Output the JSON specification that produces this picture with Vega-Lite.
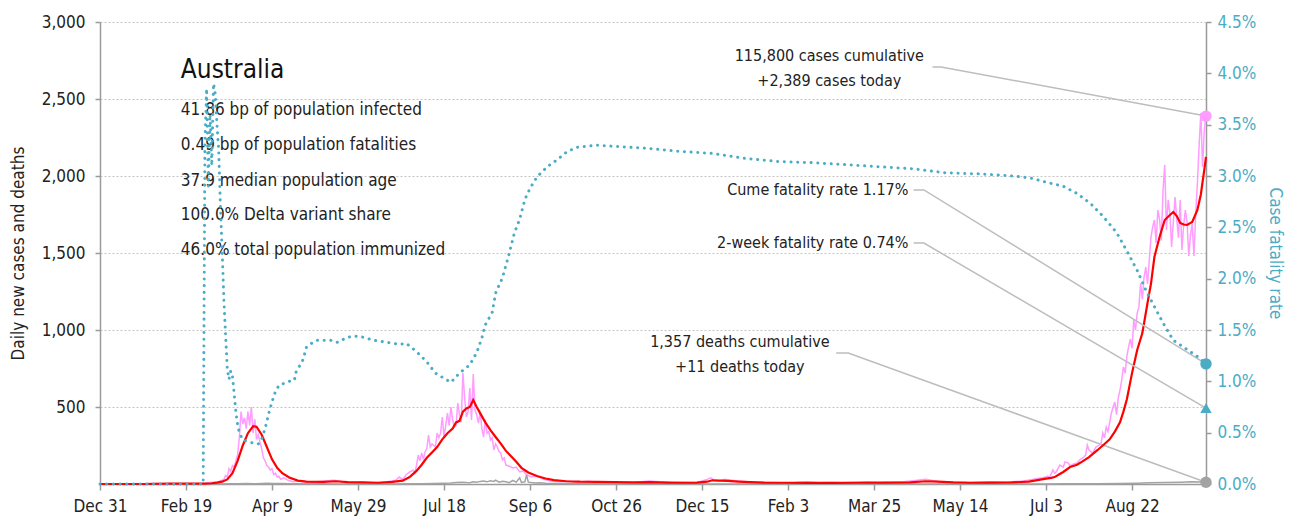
{
  "$schema": "https://vega.github.io/schema/vega-lite/v6.json",
  "width": 1106,
  "height": 462,
  "autosize": {"type": "none"},
  "padding": {"left": 100, "top": 22, "right": 91, "bottom": 38},
  "background": "white",
  "config": {
    "font": "Liberation Sans Narrow, DejaVu Sans Condensed, sans-serif",
    "view": {"stroke": null},
    "axis": {
      "labelFont": "Liberation Sans Narrow, DejaVu Sans Condensed, sans-serif",
      "titleFont": "Liberation Sans Narrow, DejaVu Sans Condensed, sans-serif",
      "labelFontSize": 17,
      "titleFontSize": 17,
      "titleFontWeight": "normal",
      "domainColor": "#9a9a9a",
      "tickColor": "#9a9a9a",
      "domainWidth": 1.5,
      "tickWidth": 1.5,
      "labelColor": "#222222",
      "titleColor": "#222222"
    }
  },
  "datasets": {
    "raw": [
      {"d": "2019-12-31", "v": 0}, {"d": "2020-01-25", "v": 1}, {"d": "2020-02-01", "v": 3}, {"d": "2020-02-10", "v": 1}, {"d": "2020-02-20", "v": 0}, {"d": "2020-02-29", "v": 4},
      {"d": "2020-03-03", "v": 8}, {"d": "2020-03-06", "v": 12}, {"d": "2020-03-09", "v": 15}, {"d": "2020-03-11", "v": 25}, {"d": "2020-03-12", "v": 30}, {"d": "2020-03-13", "v": 55},
      {"d": "2020-03-14", "v": 45}, {"d": "2020-03-15", "v": 100}, {"d": "2020-03-16", "v": 80}, {"d": "2020-03-17", "v": 120}, {"d": "2020-03-18", "v": 110}, {"d": "2020-03-19", "v": 150},
      {"d": "2020-03-20", "v": 190}, {"d": "2020-03-21", "v": 300}, {"d": "2020-03-22", "v": 470}, {"d": "2020-03-23", "v": 390}, {"d": "2020-03-24", "v": 430}, {"d": "2020-03-25", "v": 360},
      {"d": "2020-03-26", "v": 470}, {"d": "2020-03-27", "v": 380}, {"d": "2020-03-28", "v": 500}, {"d": "2020-03-29", "v": 330}, {"d": "2020-03-30", "v": 420}, {"d": "2020-03-31", "v": 290},
      {"d": "2020-04-01", "v": 320}, {"d": "2020-04-02", "v": 270}, {"d": "2020-04-03", "v": 230}, {"d": "2020-04-04", "v": 170}, {"d": "2020-04-05", "v": 150}, {"d": "2020-04-06", "v": 120},
      {"d": "2020-04-07", "v": 110}, {"d": "2020-04-08", "v": 90}, {"d": "2020-04-09", "v": 100}, {"d": "2020-04-10", "v": 60}, {"d": "2020-04-11", "v": 70}, {"d": "2020-04-12", "v": 45},
      {"d": "2020-04-13", "v": 50}, {"d": "2020-04-14", "v": 30}, {"d": "2020-04-16", "v": 40}, {"d": "2020-04-18", "v": 25}, {"d": "2020-04-21", "v": 15}, {"d": "2020-04-25", "v": 20},
      {"d": "2020-04-30", "v": 10}, {"d": "2020-05-05", "v": 15}, {"d": "2020-05-10", "v": 20}, {"d": "2020-05-15", "v": 25}, {"d": "2020-05-20", "v": 15}, {"d": "2020-05-25", "v": 10},
      {"d": "2020-05-30", "v": 12}, {"d": "2020-06-05", "v": 8}, {"d": "2020-06-10", "v": 10}, {"d": "2020-06-15", "v": 15}, {"d": "2020-06-20", "v": 25}, {"d": "2020-06-22", "v": 45},
      {"d": "2020-06-24", "v": 30}, {"d": "2020-06-26", "v": 60}, {"d": "2020-06-28", "v": 78}, {"d": "2020-06-30", "v": 90}, {"d": "2020-07-01", "v": 70}, {"d": "2020-07-02", "v": 120},
      {"d": "2020-07-03", "v": 188}, {"d": "2020-07-04", "v": 150}, {"d": "2020-07-05", "v": 201}, {"d": "2020-07-06", "v": 160}, {"d": "2020-07-07", "v": 210}, {"d": "2020-07-08", "v": 230},
      {"d": "2020-07-09", "v": 318}, {"d": "2020-07-10", "v": 240}, {"d": "2020-07-11", "v": 260}, {"d": "2020-07-12", "v": 250}, {"d": "2020-07-13", "v": 240}, {"d": "2020-07-14", "v": 331},
      {"d": "2020-07-15", "v": 300}, {"d": "2020-07-16", "v": 330}, {"d": "2020-07-17", "v": 435}, {"d": "2020-07-18", "v": 305}, {"d": "2020-07-19", "v": 380}, {"d": "2020-07-20", "v": 461},
      {"d": "2020-07-21", "v": 380}, {"d": "2020-07-22", "v": 500}, {"d": "2020-07-23", "v": 420}, {"d": "2020-07-24", "v": 370}, {"d": "2020-07-25", "v": 380}, {"d": "2020-07-26", "v": 526},
      {"d": "2020-07-27", "v": 450}, {"d": "2020-07-28", "v": 400}, {"d": "2020-07-29", "v": 721}, {"d": "2020-07-30", "v": 560}, {"d": "2020-07-31", "v": 435}, {"d": "2020-08-01", "v": 470},
      {"d": "2020-08-02", "v": 623}, {"d": "2020-08-03", "v": 416}, {"d": "2020-08-04", "v": 714}, {"d": "2020-08-05", "v": 480}, {"d": "2020-08-06", "v": 450}, {"d": "2020-08-07", "v": 396},
      {"d": "2020-08-08", "v": 470}, {"d": "2020-08-09", "v": 360}, {"d": "2020-08-10", "v": 305}, {"d": "2020-08-11", "v": 416}, {"d": "2020-08-12", "v": 330}, {"d": "2020-08-13", "v": 340},
      {"d": "2020-08-14", "v": 286}, {"d": "2020-08-15", "v": 300}, {"d": "2020-08-16", "v": 221}, {"d": "2020-08-17", "v": 260}, {"d": "2020-08-18", "v": 240}, {"d": "2020-08-19", "v": 210},
      {"d": "2020-08-20", "v": 200}, {"d": "2020-08-21", "v": 156}, {"d": "2020-08-22", "v": 170}, {"d": "2020-08-23", "v": 123}, {"d": "2020-08-25", "v": 115}, {"d": "2020-08-27", "v": 104},
      {"d": "2020-08-29", "v": 110}, {"d": "2020-08-31", "v": 78}, {"d": "2020-09-02", "v": 85}, {"d": "2020-09-04", "v": 60}, {"d": "2020-09-07", "v": 45}, {"d": "2020-09-10", "v": 50},
      {"d": "2020-09-14", "v": 30}, {"d": "2020-09-18", "v": 20}, {"d": "2020-09-23", "v": 15}, {"d": "2020-09-28", "v": 20}, {"d": "2020-10-03", "v": 12}, {"d": "2020-10-10", "v": 18},
      {"d": "2020-10-17", "v": 10}, {"d": "2020-10-24", "v": 15}, {"d": "2020-10-31", "v": 8}, {"d": "2020-11-07", "v": 12}, {"d": "2020-11-14", "v": 20}, {"d": "2020-11-21", "v": 15},
      {"d": "2020-11-28", "v": 10}, {"d": "2020-12-05", "v": 12}, {"d": "2020-12-12", "v": 10}, {"d": "2020-12-18", "v": 30}, {"d": "2020-12-20", "v": 40}, {"d": "2020-12-22", "v": 25},
      {"d": "2020-12-25", "v": 20}, {"d": "2020-12-28", "v": 30}, {"d": "2021-01-01", "v": 25}, {"d": "2021-01-05", "v": 20}, {"d": "2021-01-10", "v": 15}, {"d": "2021-01-17", "v": 12},
      {"d": "2021-01-24", "v": 10}, {"d": "2021-01-31", "v": 8}, {"d": "2021-02-07", "v": 10}, {"d": "2021-02-14", "v": 15}, {"d": "2021-02-21", "v": 8}, {"d": "2021-02-28", "v": 10},
      {"d": "2021-03-07", "v": 8}, {"d": "2021-03-14", "v": 12}, {"d": "2021-03-21", "v": 15}, {"d": "2021-03-28", "v": 10}, {"d": "2021-04-04", "v": 12}, {"d": "2021-04-11", "v": 15},
      {"d": "2021-04-18", "v": 22}, {"d": "2021-04-24", "v": 30}, {"d": "2021-05-02", "v": 15}, {"d": "2021-05-09", "v": 12}, {"d": "2021-05-20", "v": 10}, {"d": "2021-05-31", "v": 15},
      {"d": "2021-06-10", "v": 12}, {"d": "2021-06-20", "v": 20}, {"d": "2021-06-25", "v": 30}, {"d": "2021-06-28", "v": 35}, {"d": "2021-07-01", "v": 40}, {"d": "2021-07-03", "v": 45},
      {"d": "2021-07-04", "v": 52}, {"d": "2021-07-05", "v": 40}, {"d": "2021-07-07", "v": 91}, {"d": "2021-07-08", "v": 70}, {"d": "2021-07-09", "v": 80}, {"d": "2021-07-11", "v": 123},
      {"d": "2021-07-13", "v": 110}, {"d": "2021-07-14", "v": 143}, {"d": "2021-07-16", "v": 136}, {"d": "2021-07-17", "v": 117}, {"d": "2021-07-19", "v": 130}, {"d": "2021-07-21", "v": 136},
      {"d": "2021-07-23", "v": 160}, {"d": "2021-07-25", "v": 175}, {"d": "2021-07-26", "v": 188}, {"d": "2021-07-27", "v": 253}, {"d": "2021-07-28", "v": 221}, {"d": "2021-07-30", "v": 200},
      {"d": "2021-08-01", "v": 240}, {"d": "2021-08-03", "v": 253}, {"d": "2021-08-04", "v": 266}, {"d": "2021-08-05", "v": 331}, {"d": "2021-08-06", "v": 300}, {"d": "2021-08-07", "v": 370},
      {"d": "2021-08-08", "v": 340}, {"d": "2021-08-09", "v": 400}, {"d": "2021-08-10", "v": 461}, {"d": "2021-08-11", "v": 500}, {"d": "2021-08-12", "v": 532}, {"d": "2021-08-13", "v": 450},
      {"d": "2021-08-14", "v": 560}, {"d": "2021-08-15", "v": 610}, {"d": "2021-08-16", "v": 675}, {"d": "2021-08-17", "v": 760}, {"d": "2021-08-18", "v": 720}, {"d": "2021-08-19", "v": 830},
      {"d": "2021-08-20", "v": 890}, {"d": "2021-08-21", "v": 940}, {"d": "2021-08-22", "v": 880}, {"d": "2021-08-23", "v": 1065}, {"d": "2021-08-24", "v": 1000}, {"d": "2021-08-25", "v": 1110},
      {"d": "2021-08-26", "v": 1150}, {"d": "2021-08-27", "v": 1305}, {"d": "2021-08-28", "v": 1200}, {"d": "2021-08-29", "v": 1344}, {"d": "2021-08-30", "v": 1409}, {"d": "2021-08-31", "v": 1300},
      {"d": "2021-09-01", "v": 1450}, {"d": "2021-09-02", "v": 1600}, {"d": "2021-09-03", "v": 1669}, {"d": "2021-09-04", "v": 1714}, {"d": "2021-09-05", "v": 1565}, {"d": "2021-09-06", "v": 1779},
      {"d": "2021-09-07", "v": 1720}, {"d": "2021-09-08", "v": 1580}, {"d": "2021-09-09", "v": 1900}, {"d": "2021-09-10", "v": 2072}, {"d": "2021-09-11", "v": 1650}, {"d": "2021-09-12", "v": 1844},
      {"d": "2021-09-13", "v": 1760}, {"d": "2021-09-14", "v": 1539}, {"d": "2021-09-15", "v": 1700}, {"d": "2021-09-16", "v": 1864}, {"d": "2021-09-17", "v": 1720}, {"d": "2021-09-18", "v": 1600},
      {"d": "2021-09-19", "v": 1844}, {"d": "2021-09-20", "v": 1520}, {"d": "2021-09-21", "v": 1680}, {"d": "2021-09-22", "v": 1779}, {"d": "2021-09-23", "v": 1700}, {"d": "2021-09-24", "v": 1480},
      {"d": "2021-09-25", "v": 1620}, {"d": "2021-09-26", "v": 1690}, {"d": "2021-09-27", "v": 1480}, {"d": "2021-09-28", "v": 1750}, {"d": "2021-09-29", "v": 1955}, {"d": "2021-09-30", "v": 2200},
      {"d": "2021-10-01", "v": 2409}, {"d": "2021-10-02", "v": 2059}, {"d": "2021-10-03", "v": 2300}, {"d": "2021-10-04", "v": 2389}
    ],
    "avg": [
      {"d": "2019-12-31", "v": 0}, {"d": "2020-01-25", "v": 0}, {"d": "2020-02-10", "v": 2}, {"d": "2020-02-29", "v": 3}, {"d": "2020-03-05", "v": 5}, {"d": "2020-03-08", "v": 9},
      {"d": "2020-03-11", "v": 15}, {"d": "2020-03-14", "v": 30}, {"d": "2020-03-17", "v": 70}, {"d": "2020-03-20", "v": 150}, {"d": "2020-03-23", "v": 250}, {"d": "2020-03-26", "v": 330},
      {"d": "2020-03-29", "v": 375}, {"d": "2020-03-31", "v": 372}, {"d": "2020-04-03", "v": 320}, {"d": "2020-04-06", "v": 240}, {"d": "2020-04-09", "v": 160}, {"d": "2020-04-12", "v": 105},
      {"d": "2020-04-15", "v": 70}, {"d": "2020-04-19", "v": 42}, {"d": "2020-04-24", "v": 22}, {"d": "2020-04-29", "v": 15}, {"d": "2020-05-09", "v": 14}, {"d": "2020-05-16", "v": 18},
      {"d": "2020-05-23", "v": 12}, {"d": "2020-06-01", "v": 10}, {"d": "2020-06-10", "v": 8}, {"d": "2020-06-18", "v": 14}, {"d": "2020-06-24", "v": 22}, {"d": "2020-06-28", "v": 45},
      {"d": "2020-07-02", "v": 85}, {"d": "2020-07-05", "v": 125}, {"d": "2020-07-08", "v": 170}, {"d": "2020-07-11", "v": 205}, {"d": "2020-07-14", "v": 240}, {"d": "2020-07-17", "v": 290},
      {"d": "2020-07-20", "v": 330}, {"d": "2020-07-23", "v": 360}, {"d": "2020-07-25", "v": 400}, {"d": "2020-07-27", "v": 410}, {"d": "2020-07-29", "v": 470}, {"d": "2020-07-31", "v": 490},
      {"d": "2020-08-02", "v": 500}, {"d": "2020-08-04", "v": 545}, {"d": "2020-08-06", "v": 500}, {"d": "2020-08-08", "v": 460}, {"d": "2020-08-11", "v": 400}, {"d": "2020-08-14", "v": 350},
      {"d": "2020-08-17", "v": 305}, {"d": "2020-08-20", "v": 262}, {"d": "2020-08-23", "v": 215}, {"d": "2020-08-26", "v": 180}, {"d": "2020-08-29", "v": 145}, {"d": "2020-09-01", "v": 105},
      {"d": "2020-09-05", "v": 75}, {"d": "2020-09-10", "v": 52}, {"d": "2020-09-15", "v": 36}, {"d": "2020-09-20", "v": 25}, {"d": "2020-09-27", "v": 18}, {"d": "2020-10-05", "v": 15},
      {"d": "2020-10-15", "v": 14}, {"d": "2020-10-25", "v": 12}, {"d": "2020-11-05", "v": 10}, {"d": "2020-11-15", "v": 12}, {"d": "2020-11-25", "v": 9}, {"d": "2020-12-05", "v": 8},
      {"d": "2020-12-12", "v": 9}, {"d": "2020-12-18", "v": 15}, {"d": "2020-12-21", "v": 24}, {"d": "2020-12-25", "v": 22}, {"d": "2020-12-30", "v": 20}, {"d": "2021-01-05", "v": 16},
      {"d": "2021-01-12", "v": 12}, {"d": "2021-01-20", "v": 9}, {"d": "2021-02-01", "v": 8}, {"d": "2021-02-15", "v": 7}, {"d": "2021-03-01", "v": 7}, {"d": "2021-03-15", "v": 8},
      {"d": "2021-04-01", "v": 9}, {"d": "2021-04-15", "v": 11}, {"d": "2021-04-24", "v": 18}, {"d": "2021-05-01", "v": 16}, {"d": "2021-05-10", "v": 10}, {"d": "2021-05-20", "v": 8},
      {"d": "2021-06-01", "v": 9}, {"d": "2021-06-13", "v": 10}, {"d": "2021-06-23", "v": 15}, {"d": "2021-06-28", "v": 25}, {"d": "2021-07-03", "v": 35}, {"d": "2021-07-06", "v": 40},
      {"d": "2021-07-08", "v": 45}, {"d": "2021-07-11", "v": 65}, {"d": "2021-07-13", "v": 78}, {"d": "2021-07-17", "v": 110}, {"d": "2021-07-21", "v": 125}, {"d": "2021-07-24", "v": 145},
      {"d": "2021-07-28", "v": 175}, {"d": "2021-08-02", "v": 221}, {"d": "2021-08-06", "v": 260}, {"d": "2021-08-09", "v": 290}, {"d": "2021-08-12", "v": 340}, {"d": "2021-08-15", "v": 400},
      {"d": "2021-08-17", "v": 470}, {"d": "2021-08-19", "v": 550}, {"d": "2021-08-22", "v": 720}, {"d": "2021-08-25", "v": 870}, {"d": "2021-08-28", "v": 980}, {"d": "2021-08-31", "v": 1175},
      {"d": "2021-09-02", "v": 1300}, {"d": "2021-09-04", "v": 1474}, {"d": "2021-09-07", "v": 1604}, {"d": "2021-09-10", "v": 1714}, {"d": "2021-09-13", "v": 1747}, {"d": "2021-09-15", "v": 1766},
      {"d": "2021-09-17", "v": 1740}, {"d": "2021-09-19", "v": 1695}, {"d": "2021-09-21", "v": 1685}, {"d": "2021-09-23", "v": 1682}, {"d": "2021-09-26", "v": 1701}, {"d": "2021-09-29", "v": 1779},
      {"d": "2021-10-01", "v": 1880}, {"d": "2021-10-02", "v": 1961}, {"d": "2021-10-03", "v": 2040}, {"d": "2021-10-04", "v": 2124}
    ],
    "deaths": [
      {"d": "2019-12-31", "v": 0}, {"d": "2020-02-29", "v": 0}, {"d": "2020-03-01", "v": 1}, {"d": "2020-03-10", "v": 0}, {"d": "2020-03-15", "v": 1}, {"d": "2020-03-20", "v": 1},
      {"d": "2020-03-25", "v": 3}, {"d": "2020-03-30", "v": 2}, {"d": "2020-04-03", "v": 4}, {"d": "2020-04-06", "v": 5}, {"d": "2020-04-10", "v": 4}, {"d": "2020-04-15", "v": 3},
      {"d": "2020-04-20", "v": 2}, {"d": "2020-04-25", "v": 1}, {"d": "2020-05-05", "v": 1}, {"d": "2020-05-20", "v": 0}, {"d": "2020-06-10", "v": 0}, {"d": "2020-07-05", "v": 1},
      {"d": "2020-07-12", "v": 3}, {"d": "2020-07-18", "v": 5}, {"d": "2020-07-22", "v": 7}, {"d": "2020-07-25", "v": 10}, {"d": "2020-07-28", "v": 12}, {"d": "2020-07-31", "v": 9},
      {"d": "2020-08-02", "v": 8}, {"d": "2020-08-04", "v": 15}, {"d": "2020-08-06", "v": 12}, {"d": "2020-08-08", "v": 17}, {"d": "2020-08-10", "v": 19}, {"d": "2020-08-12", "v": 14},
      {"d": "2020-08-14", "v": 21}, {"d": "2020-08-16", "v": 17}, {"d": "2020-08-17", "v": 25}, {"d": "2020-08-19", "v": 12}, {"d": "2020-08-21", "v": 18}, {"d": "2020-08-23", "v": 14},
      {"d": "2020-08-25", "v": 9}, {"d": "2020-08-27", "v": 23}, {"d": "2020-08-29", "v": 12}, {"d": "2020-08-31", "v": 41}, {"d": "2020-09-01", "v": 10}, {"d": "2020-09-03", "v": 14},
      {"d": "2020-09-04", "v": 59}, {"d": "2020-09-05", "v": 12}, {"d": "2020-09-07", "v": 9}, {"d": "2020-09-09", "v": 7}, {"d": "2020-09-12", "v": 8}, {"d": "2020-09-15", "v": 5},
      {"d": "2020-09-19", "v": 3}, {"d": "2020-09-25", "v": 4}, {"d": "2020-10-01", "v": 3}, {"d": "2020-10-10", "v": 1}, {"d": "2020-10-25", "v": 0}, {"d": "2020-11-10", "v": 1},
      {"d": "2020-12-01", "v": 0}, {"d": "2021-07-01", "v": 0}, {"d": "2021-07-15", "v": 1}, {"d": "2021-08-01", "v": 2}, {"d": "2021-08-15", "v": 3}, {"d": "2021-08-25", "v": 5},
      {"d": "2021-09-01", "v": 8}, {"d": "2021-09-10", "v": 10}, {"d": "2021-09-20", "v": 12}, {"d": "2021-09-25", "v": 14}, {"d": "2021-10-01", "v": 13}, {"d": "2021-10-04", "v": 11}
    ],
    "cfr": [
      {"d": "2019-12-31", "v": 0}, {"d": "2020-02-29", "v": 0}, {"d": "2020-03-01", "v": 0.033}, {"d": "2020-03-02", "v": 0.0385}, {"d": "2020-03-03", "v": 0.029}, {"d": "2020-03-04", "v": 0.036},
      {"d": "2020-03-05", "v": 0.031}, {"d": "2020-03-06", "v": 0.039}, {"d": "2020-03-07", "v": 0.038}, {"d": "2020-03-08", "v": 0.035}, {"d": "2020-03-09", "v": 0.0325}, {"d": "2020-03-10", "v": 0.027},
      {"d": "2020-03-11", "v": 0.0228}, {"d": "2020-03-12", "v": 0.018}, {"d": "2020-03-13", "v": 0.0145}, {"d": "2020-03-14", "v": 0.0112}, {"d": "2020-03-15", "v": 0.0102}, {"d": "2020-03-16", "v": 0.011},
      {"d": "2020-03-17", "v": 0.0105}, {"d": "2020-03-18", "v": 0.0088}, {"d": "2020-03-19", "v": 0.007}, {"d": "2020-03-20", "v": 0.0058}, {"d": "2020-03-21", "v": 0.005}, {"d": "2020-03-23", "v": 0.0043},
      {"d": "2020-03-26", "v": 0.0041}, {"d": "2020-03-29", "v": 0.004}, {"d": "2020-04-01", "v": 0.0039}, {"d": "2020-04-03", "v": 0.0044}, {"d": "2020-04-05", "v": 0.0054}, {"d": "2020-04-07", "v": 0.0068},
      {"d": "2020-04-09", "v": 0.008}, {"d": "2020-04-11", "v": 0.009}, {"d": "2020-04-13", "v": 0.0096}, {"d": "2020-04-19", "v": 0.01}, {"d": "2020-04-22", "v": 0.0101}, {"d": "2020-04-23", "v": 0.0109},
      {"d": "2020-04-27", "v": 0.0121}, {"d": "2020-04-29", "v": 0.0133}, {"d": "2020-05-02", "v": 0.0137}, {"d": "2020-05-05", "v": 0.014}, {"d": "2020-05-13", "v": 0.014}, {"d": "2020-05-17", "v": 0.0138},
      {"d": "2020-05-23", "v": 0.0143}, {"d": "2020-05-27", "v": 0.0144}, {"d": "2020-06-01", "v": 0.0143}, {"d": "2020-06-07", "v": 0.014}, {"d": "2020-06-15", "v": 0.0138}, {"d": "2020-06-22", "v": 0.0136},
      {"d": "2020-06-26", "v": 0.0137}, {"d": "2020-07-02", "v": 0.0129}, {"d": "2020-07-08", "v": 0.0119}, {"d": "2020-07-13", "v": 0.0108}, {"d": "2020-07-18", "v": 0.0103}, {"d": "2020-07-22", "v": 0.0099},
      {"d": "2020-07-27", "v": 0.0108}, {"d": "2020-08-02", "v": 0.0116}, {"d": "2020-08-06", "v": 0.0128}, {"d": "2020-08-09", "v": 0.0142}, {"d": "2020-08-11", "v": 0.0155}, {"d": "2020-08-15", "v": 0.0167},
      {"d": "2020-08-17", "v": 0.0186}, {"d": "2020-08-21", "v": 0.0201}, {"d": "2020-08-25", "v": 0.0225}, {"d": "2020-08-28", "v": 0.0245}, {"d": "2020-08-31", "v": 0.0258}, {"d": "2020-09-03", "v": 0.0277},
      {"d": "2020-09-06", "v": 0.0288}, {"d": "2020-09-10", "v": 0.0299}, {"d": "2020-09-16", "v": 0.0309}, {"d": "2020-09-22", "v": 0.0316}, {"d": "2020-09-27", "v": 0.0323}, {"d": "2020-10-03", "v": 0.0328},
      {"d": "2020-10-15", "v": 0.033}, {"d": "2020-10-24", "v": 0.0329}, {"d": "2020-11-13", "v": 0.0327}, {"d": "2020-12-02", "v": 0.0324}, {"d": "2020-12-21", "v": 0.0322}, {"d": "2021-01-10", "v": 0.0317},
      {"d": "2021-01-29", "v": 0.0314}, {"d": "2021-02-17", "v": 0.0313}, {"d": "2021-03-09", "v": 0.0311}, {"d": "2021-03-28", "v": 0.0309}, {"d": "2021-04-17", "v": 0.0307}, {"d": "2021-05-06", "v": 0.0303},
      {"d": "2021-05-26", "v": 0.0302}, {"d": "2021-06-14", "v": 0.03}, {"d": "2021-06-24", "v": 0.0298}, {"d": "2021-07-03", "v": 0.0294}, {"d": "2021-07-13", "v": 0.029}, {"d": "2021-07-21", "v": 0.0283},
      {"d": "2021-07-29", "v": 0.0273}, {"d": "2021-08-05", "v": 0.0261}, {"d": "2021-08-13", "v": 0.0245}, {"d": "2021-08-19", "v": 0.0227}, {"d": "2021-08-25", "v": 0.0208}, {"d": "2021-08-30", "v": 0.0189},
      {"d": "2021-09-03", "v": 0.0176}, {"d": "2021-09-09", "v": 0.0157}, {"d": "2021-09-15", "v": 0.014}, {"d": "2021-09-23", "v": 0.0131}, {"d": "2021-09-30", "v": 0.0123}, {"d": "2021-10-04", "v": 0.0117}
    ],
    "caseLinks": [
      {"c": "cases", "d": "2021-04-28", "v": 2708}, {"c": "cases", "d": "2021-05-03", "v": 2708}, {"c": "cases", "d": "2021-10-04", "v": 2389},
      {"c": "deaths", "d": "2021-03-03", "v": 851}, {"c": "deaths", "d": "2021-03-10", "v": 851}, {"c": "deaths", "d": "2021-10-04", "v": 11}
    ],
    "rateLinks": [
      {"c": "cume", "d": "2021-04-17", "v": 0.02864}, {"c": "cume", "d": "2021-04-23", "v": 0.02864}, {"c": "cume", "d": "2021-10-04", "v": 0.0117},
      {"c": "two", "d": "2021-04-17", "v": 0.02347}, {"c": "two", "d": "2021-04-23", "v": 0.02347}, {"c": "two", "d": "2021-10-04", "v": 0.0074}
    ],
    "caseNotes": [
      {"d": "2021-02-27", "v": 2779, "t": "115,800 cases cumulative"},
      {"d": "2021-02-27", "v": 2617, "t": "+2,389 cases today"},
      {"d": "2021-01-06", "v": 922, "t": "1,357 deaths cumulative"},
      {"d": "2021-01-06", "v": 760, "t": "+11 deaths today"}
    ],
    "rateNotes": [
      {"d": "2021-04-14", "v": 0.02864, "t": "Cume fatality rate 1.17%"},
      {"d": "2021-04-14", "v": 0.02347, "t": "2-week fatality rate 0.74%"}
    ],
    "stats": [
      {"d": "2020-02-16", "v": 2429, "t": "41.86 bp of population infected"},
      {"d": "2020-02-16", "v": 2201, "t": "0.49 bp of population fatalities"},
      {"d": "2020-02-16", "v": 1968, "t": "37.9 median population age"},
      {"d": "2020-02-16", "v": 1747, "t": "100.0% Delta variant share"},
      {"d": "2020-02-16", "v": 1519, "t": "46.0% total population immunized"}
    ],
    "heading": [{"d": "2020-02-16", "v": 2688, "t": "Australia"}],
    "casePts": [
      {"d": "2021-10-04", "v": 2389, "k": "cases"},
      {"d": "2021-10-04", "v": 11, "k": "deaths"}
    ],
    "ratePts": [
      {"d": "2021-10-04", "v": 0.0117, "k": "cume"},
      {"d": "2021-10-04", "v": 0.0074, "k": "two"}
    ]
  },
  "encoding": {
    "x": {
      "field": "d",
      "type": "temporal",
      "title": null,
      "scale": {
        "type": "utc",
        "domain": [
          {"year": 2019, "month": 12, "date": 31, "utc": true},
          {"year": 2021, "month": 10, "date": 4, "utc": true}
        ]
      },
      "axis": {
        "format": "%b %-d",
        "grid": false,
        "tickSize": 6,
        "labelPadding": 8,
        "labelFlush": false,
        "labelOverlap": false,
        "values": [
          {"year": 2019, "month": 12, "date": 31, "utc": true},
          {"year": 2020, "month": 2, "date": 19, "utc": true},
          {"year": 2020, "month": 4, "date": 9, "utc": true},
          {"year": 2020, "month": 5, "date": 29, "utc": true},
          {"year": 2020, "month": 7, "date": 18, "utc": true},
          {"year": 2020, "month": 9, "date": 6, "utc": true},
          {"year": 2020, "month": 10, "date": 26, "utc": true},
          {"year": 2020, "month": 12, "date": 15, "utc": true},
          {"year": 2021, "month": 2, "date": 3, "utc": true},
          {"year": 2021, "month": 3, "date": 25, "utc": true},
          {"year": 2021, "month": 5, "date": 14, "utc": true},
          {"year": 2021, "month": 7, "date": 3, "utc": true},
          {"year": 2021, "month": 8, "date": 22, "utc": true}
        ]
      }
    }
  },
  "layer": [
    {
      "encoding": {
        "y": {
          "field": "v",
          "type": "quantitative",
          "scale": {"domain": [0, 3000]},
          "axis": {
            "orient": "left",
            "title": "Daily new cases and deaths",
            "values": [500, 1000, 1500, 2000, 2500, 3000],
            "format": ",d",
            "grid": true,
            "gridColor": "#c4c4c4",
            "gridDash": [2, 2],
            "gridWidth": 1,
            "tickSize": 5,
            "labelPadding": 10,
            "titlePadding": 14
          }
        }
      },
      "layer": [
        {
          "data": {"name": "caseLinks"},
          "mark": {"type": "line", "color": "#bdbdbd", "strokeWidth": 1.5},
          "encoding": {"detail": {"field": "c"}}
        },
        {
          "data": {"name": "raw"},
          "mark": {"type": "line", "color": "#ff9cff", "strokeWidth": 1.5},
          "encoding": {}
        },
        {
          "data": {"name": "deaths"},
          "mark": {"type": "line", "color": "#a3a3a3", "strokeWidth": 1.5},
          "encoding": {}
        },
        {
          "data": {"name": "avg"},
          "mark": {"type": "line", "color": "#ff0000", "strokeWidth": 2.2},
          "encoding": {}
        },
        {
          "data": {"name": "caseNotes"},
          "mark": {"type": "text", "align": "center", "baseline": "middle", "fontSize": 16, "color": "#222222"},
          "encoding": {"text": {"field": "t"}}
        },
        {
          "data": {"name": "stats"},
          "mark": {"type": "text", "align": "left", "baseline": "middle", "fontSize": 17, "color": "#222222"},
          "encoding": {"text": {"field": "t"}}
        },
        {
          "data": {"name": "heading"},
          "mark": {"type": "text", "align": "left", "baseline": "middle", "fontSize": 26, "color": "#111111"},
          "encoding": {"text": {"field": "t"}}
        },
        {
          "data": {"name": "casePts"},
          "mark": {"type": "point", "shape": "circle", "filled": true, "size": 130, "opacity": 1},
          "encoding": {
            "color": {"field": "k", "type": "nominal", "scale": {"domain": ["cases", "deaths"], "range": ["#ff9cff", "#a3a3a3"]}, "legend": null}
          }
        }
      ]
    },
    {
      "encoding": {
        "y": {
          "field": "v",
          "type": "quantitative",
          "scale": {"domain": [0, 0.045]},
          "axis": {
            "orient": "right",
            "title": "Case fatality rate",
            "values": [0, 0.005, 0.01, 0.015, 0.02, 0.025, 0.03, 0.035, 0.04, 0.045],
            "format": ".1%",
            "grid": false,
            "tickSize": 5,
            "labelPadding": 6,
            "labelColor": "#4bacc6",
            "titleColor": "#4bacc6",
            "titlePadding": 10
          }
        }
      },
      "layer": [
        {
          "data": {"name": "rateLinks"},
          "mark": {"type": "line", "color": "#bdbdbd", "strokeWidth": 1.5},
          "encoding": {"detail": {"field": "c"}}
        },
        {
          "data": {"name": "cfr"},
          "mark": {"type": "line", "color": "#4bacc6", "strokeWidth": 3, "strokeDash": [0.1, 6.6], "strokeCap": "round"},
          "encoding": {}
        },
        {
          "data": {"name": "rateNotes"},
          "mark": {"type": "text", "align": "right", "baseline": "middle", "fontSize": 16, "color": "#222222"},
          "encoding": {"text": {"field": "t"}}
        },
        {
          "data": {"name": "ratePts"},
          "mark": {"type": "point", "filled": true, "size": 130, "opacity": 1, "color": "#4bacc6"},
          "encoding": {
            "shape": {"field": "k", "type": "nominal", "scale": {"domain": ["cume", "two"], "range": ["circle", "triangle-up"]}, "legend": null}
          }
        }
      ]
    }
  ],
  "resolve": {"scale": {"y": "independent"}}
}
